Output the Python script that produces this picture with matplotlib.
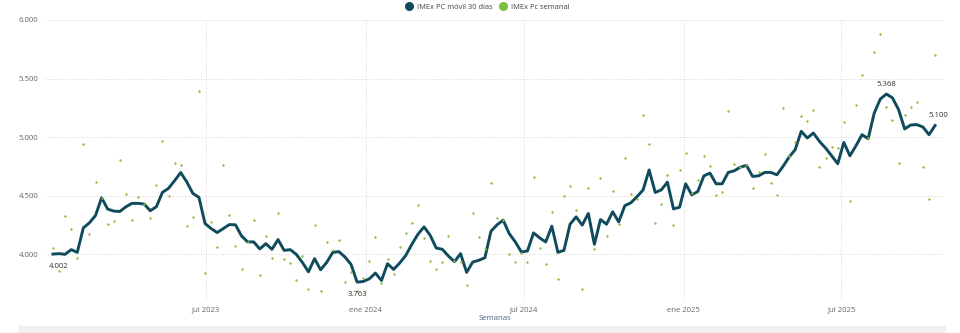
import matplotlib
matplotlib.use("Agg")
import matplotlib.pyplot as plt
import matplotlib.patches as mpatches
from matplotlib.lines import Line2D
import pandas as pd

# weekly dates (Fridays)
semanas = pd.date_range("2023-01-06", periods=146, freq="7D")

# IMEx PC moving 30-day average
movil_30 = [
    4002, 4006, 4000, 4040, 4017, 4226, 4269, 4332, 4483, 4386,
    4369, 4366, 4406, 4435, 4435, 4429, 4372, 4406, 4529, 4563,
    4629, 4698, 4618, 4520, 4486, 4263, 4220, 4186, 4220, 4254,
    4252, 4157, 4106, 4106, 4046, 4091, 4043, 4126, 4034, 4040,
    4000, 3931, 3851, 3963, 3868, 3931, 4017, 4023, 3977, 3914,
    3763, 3768, 3791, 3840, 3777, 3920, 3871, 3926, 3991, 4086,
    4172, 4234, 4163, 4054, 4043, 3986, 3937, 4006, 3846, 3934,
    3949, 3971, 4197, 4252, 4292, 4177, 4106, 4020, 4029, 4183,
    4140, 4106, 4240, 4017, 4034, 4257, 4320, 4249, 4349, 4086,
    4297, 4257, 4363, 4277, 4415, 4440, 4492, 4549, 4720, 4528,
    4550, 4616, 4388, 4402, 4602, 4508, 4536, 4670, 4693, 4602,
    4602, 4699, 4713, 4744, 4759, 4665, 4670, 4699, 4699, 4679,
    4750, 4830, 4893, 5050, 4993, 5035, 4964, 4907, 4841, 4773,
    4955, 4841, 4927, 5021, 4987, 5206, 5326, 5368, 5335, 5235,
    5070, 5104, 5107, 5087, 5021, 5100,
]

# IMEx Pc weekly values
semanal = [
    4057, 3857, 4326, 4212, 3971, 4941, 4172, 4618, 4480, 4263,
    4286, 4801, 4515, 4289, 4492, 4430, 4309, 4592, 4966, 4500,
    4778, 4763, 4246, 4320, 5392, 3840, 4274, 4066, 4761, 4332,
    4069, 3874, 4106, 4297, 3820, 4157, 3966, 4355, 3960, 3926,
    3783, 3989, 3703, 4254, 3686, 4106, 4034, 4126, 3766, 3848,
    3690, 3800, 3940, 4149, 3754, 3963, 3834, 4063, 4183, 4269,
    4420, 4140, 3946, 3871, 3931, 4160, 3940, 3934, 3740, 4349,
    4149, 4049, 4612, 4312, 4290, 4006, 3934, 4010, 3934, 4658,
    4057, 3920, 4363, 3786, 4497, 4580, 4375, 3706, 4563, 4046,
    4649, 4154, 4537, 4257, 4818, 4512, 4469, 5192, 4941, 4271,
    4428, 4673, 4254, 4716, 4864, 4520, 4636, 4838, 4750, 4508,
    4528, 5226, 4773, 4744, 4759, 4570, 4699, 4853, 4613, 4505,
    5246, 4836, 4958, 5181, 5135, 5235, 4747, 4824, 4915, 4907,
    5129, 4453, 5278, 5534, 4990, 5723, 5877, 5258, 5149, 4779,
    5192, 5258, 5298, 4742, 4476, 5705,
]

tick_fechas = pd.to_datetime(["2023-07-01", "2024-01-01", "2024-07-01",
                              "2025-01-01", "2025-07-01"])
tick_textos = ["jul 2023", "ene 2024", "jul 2024", "ene 2025", "jul 2025"]
y_ticks = [4000, 4500, 5000, 5500, 6000]

linea_color = "#0f4b5c"
punto_color = "#98b83c"
gris = "#666666"
fs = 5.6

def fmt(v):
    return f"{v:,.0f}".replace(",", ".")

plt.rcParams["font.family"] = ["Open Sans", "DejaVu Sans"]

fig = plt.figure(figsize=(9.6, 3.33), dpi=100)
ax = fig.add_axes([0.047, 0.099, 0.937, 0.841])

ax.plot(semanas, movil_30, color=linea_color, lw=2.1, zorder=3,
        solid_joinstyle="round")
ax.scatter(semanas, semanal, s=3, color=punto_color, zorder=4, linewidths=0)

ax.set_ylim(3610, 6000)
ax.set_xlim(pd.Timestamp("2022-12-28"), pd.Timestamp("2025-10-28"))

ax.set_yticks(y_ticks)
ax.set_yticklabels([fmt(v) for v in y_ticks])
ax.set_xticks(tick_fechas)
ax.set_xticklabels(tick_textos)
ax.tick_params(axis="both", length=0, labelsize=fs, colors=gris)
ax.tick_params(axis="y", pad=5)
ax.tick_params(axis="x", pad=5)

ax.grid(True, color="#d6d6d6", linestyle=(0, (1, 1.5)), linewidth=0.7)
ax.set_axisbelow(True)
for s in ax.spines.values():
    s.set_visible(False)

ax.set_xlabel("Semanas", fontsize=fs, color="#4a6585", labelpad=1)

# data labels
i_min = movil_30.index(min(movil_30))
i_max = movil_30.index(max(movil_30))
etiquetas = [
    (0, 4, -9),
    (i_min, 0, -9),
    (i_max, 0, 7),
    (len(movil_30) - 1, 2, 7),
]
for i, dx, dy in etiquetas:
    ax.annotate(fmt(movil_30[i]), (semanas[i], movil_30[i]),
                xytext=(dx, dy), textcoords="offset points",
                ha="center", va="center", fontsize=fs, color="#333333",
                zorder=5)

# legend
handles = [
    Line2D([], [], marker="o", ls="", color=linea_color, markersize=5.5,
           label="IMEx PC móvil 30 días"),
    Line2D([], [], marker="o", ls="", color="#7cbf3a", markersize=5.5,
           label="IMEx Pc semanal"),
]
fig.legend(handles=handles, loc="upper center", bbox_to_anchor=(0.506, 1.01),
           ncol=2, frameon=False, fontsize=5.4, handletextpad=0.05,
           columnspacing=0.4, labelcolor="#444444")

# grey scroll band at the bottom
fig.patches.append(mpatches.Rectangle((0.019, 0.0), 0.965, 0.022,
                                      transform=fig.transFigure,
                                      color="#f0f0f0", zorder=0))

fig.savefig("out.png", dpi=100)
